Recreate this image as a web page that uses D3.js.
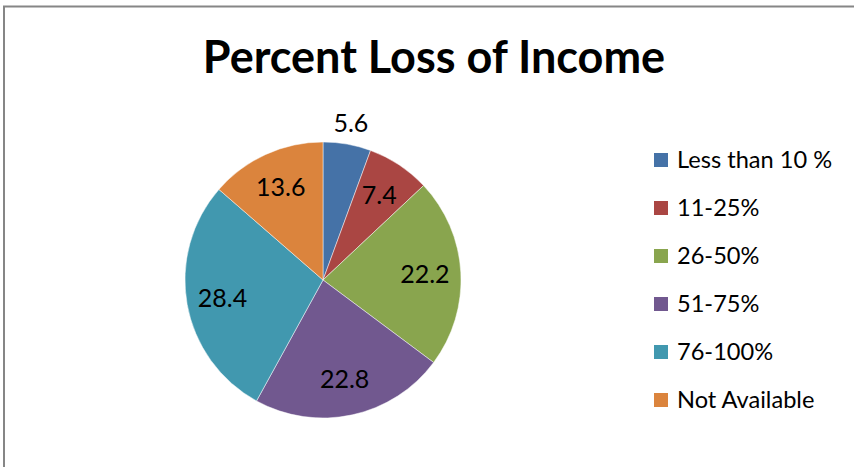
<!DOCTYPE html>
<html>
<head>
<meta charset="utf-8">
<script src="https://cdn.jsdelivr.net/npm/d3@7"></script>
<style>
  html, body { margin: 0; padding: 0; background: #fff; }
  svg { display: block; }
  text { font-family: Lato, "Open Sans", sans-serif; fill: #000; }
</style>
</head>
<body>
<svg id="chart" width="854" height="467"></svg>
<script>
const categories = ["Less than 10 %", "11-25%", "26-50%", "51-75%", "76-100%", "Not Available"];
const values = [5.6, 7.4, 22.2, 22.8, 28.4, 13.6];
const colors = ["#4572A7", "#AA4643", "#89A54E", "#71588F", "#4198AF", "#DB843D"];
const title = "Percent Loss of Income";

const svg = d3.select("#chart");
const W = 854, H = 467;

// chart frame (right and bottom edges run off the image)
svg.append("rect")
  .attr("x", 4).attr("y", 6.5)
  .attr("width", W + 20).attr("height", H + 20)
  .attr("fill", "none").attr("stroke", "#868686").attr("stroke-width", 2);

svg.append("text")
  .attr("x", 434).attr("y", 73)
  .attr("text-anchor", "middle")
  .attr("font-weight", "bold")
  .attr("font-size", 45)
  .text(title);

const cx = 323, cy = 280, R = 138;
const data = categories.map((c, i) => ({ cat: c, value: values[i], color: colors[i] }));
const pie = d3.pie().sort(null).value(d => d.value);
const arcs = pie(data);
const arc = d3.arc().innerRadius(0).outerRadius(R);

const g = svg.append("g").attr("transform", `translate(${cx},${cy})`);
g.selectAll("path").data(arcs).enter().append("path")
  .attr("d", arc)
  .attr("fill", d => d.data.color)
  .attr("stroke", "#ffffff").attr("stroke-opacity", 0.6).attr("stroke-width", 0.8);

const inArc = d3.arc().innerRadius(102).outerRadius(102);
const outArc = d3.arc().innerRadius(159).outerRadius(159);
g.selectAll("text.lbl").data(arcs).enter().append("text")
  .attr("class", "lbl")
  .attr("transform", d => {
    const p = (d.data.value < 6 ? outArc : inArc).centroid(d);
    return `translate(${p[0]},${p[1]})`;
  })
  .attr("text-anchor", "middle")
  .attr("dy", "0.35em")
  .attr("font-size", 25)
  .text(d => d.data.value);

const leg = svg.append("g");
const rows = leg.selectAll("g").data(data).enter().append("g")
  .attr("transform", (d, i) => `translate(654,${160 + i * 48})`);
rows.append("rect")
  .attr("x", 0).attr("y", -7).attr("width", 14).attr("height", 14)
  .attr("fill", d => d.color);
rows.append("text")
  .attr("x", 23).attr("y", 8)
  .attr("font-size", 23.6)
  .text(d => d.cat);
</script>
</body>
</html>
